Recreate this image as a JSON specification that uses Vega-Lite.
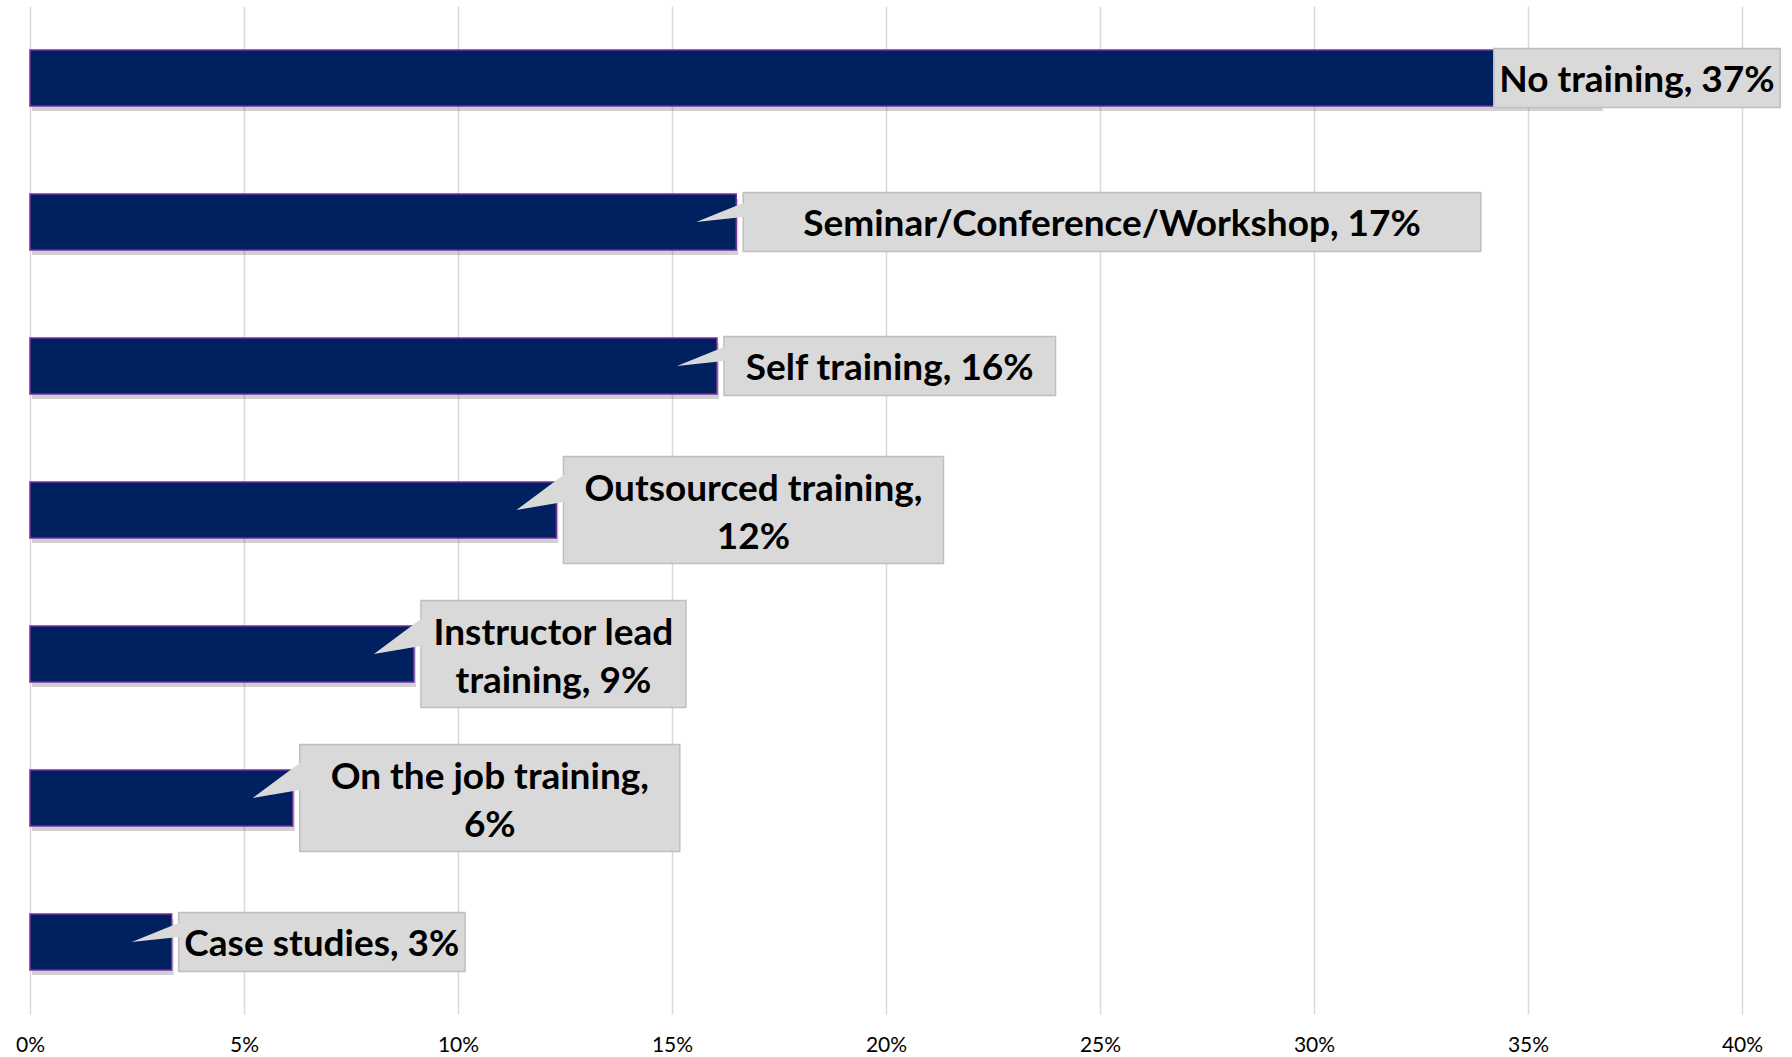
{
  "$schema": "https://vega.github.io/schema/vega-lite/v6.json",
  "width": 1712,
  "height": 1008,
  "autosize": {"type": "none"},
  "padding": {"left": 30, "top": 6, "right": 50, "bottom": 43},
  "background": "white",
  "config": {"view": {"stroke": null}, "font": "Lato"},
  "data": {
    "values": [
      {"category": "No training", "value": 0.367, "label": "No training, 37%"},
      {"category": "Seminar/Conference/Workshop", "value": 0.165, "label": "Seminar/Conference/Workshop, 17%"},
      {"category": "Self training", "value": 0.1605, "label": "Self training, 16%"},
      {"category": "Outsourced training", "value": 0.123, "label": ["Outsourced training,", "12%"]},
      {"category": "Instructor lead training", "value": 0.0897, "label": ["Instructor lead", "training, 9%"]},
      {"category": "On the job training", "value": 0.0614, "label": ["On the job training,", "6%"]},
      {"category": "Case studies", "value": 0.0331, "label": "Case studies, 3%"}
    ]
  },
  "encoding": {
    "y": {
      "field": "category",
      "type": "nominal",
      "sort": null,
      "axis": null,
      "scale": {"paddingInner": 0.61, "paddingOuter": 0.305}
    },
    "x": {
      "field": "value",
      "type": "quantitative",
      "scale": {"domain": [0, 0.4]},
      "axis": {
        "values": [0, 0.05, 0.1, 0.15, 0.2, 0.25, 0.3, 0.35, 0.4],
        "format": ".0%",
        "title": null,
        "domain": false,
        "ticks": false,
        "labelFlush": false,
        "labelPadding": 20,
        "labelFont": "Lato",
        "labelFontSize": 21,
        "labelColor": "#000000",
        "gridColor": "#d9d9d9",
        "gridWidth": 1.5
      }
    }
  },
  "layer": [
    {
      "mark": {"type": "bar", "fill": "#000000", "opacity": 0.18, "xOffset": 2, "x2Offset": 4, "yOffset": 5, "y2Offset": 5}
    },
    {
      "mark": {"type": "bar", "fill": "#002060", "stroke": "#7030a0", "strokeWidth": 1.5}
    },
    {
      "transform": [{"filter": "!isArray(datum.label)"}],
      "mark": {
        "type": "rect",
        "height": 59,
        "fill": "#d9d9d9",
        "stroke": "#bfbfbf",
        "strokeWidth": 1.5,
        "xOffset": {"expr": "datum.value > 0.3 ? -107 : 7"},
        "x2Offset": {"expr": "(datum.value > 0.3 ? -107 : 7) + 0.4 * pow(length(datum.label), 2) + 9 * length(datum.label) + 40"}
      },
      "encoding": {
        "x2": {"field": "value"}
      }
    },
    {
      "transform": [{"filter": "isArray(datum.label)"}],
      "mark": {
        "type": "rect",
        "height": 107,
        "fill": "#d9d9d9",
        "stroke": "#bfbfbf",
        "strokeWidth": 1.5,
        "xOffset": 7,
        "x2Offset": {"expr": "7 + 0.4 * pow(max(length(datum.label[0]), length(datum.label[1])), 2) + 9 * max(length(datum.label[0]), length(datum.label[1])) + 40"}
      },
      "encoding": {
        "x2": {"field": "value"}
      }
    },
    {
      "transform": [{"filter": "!isArray(datum.label) && datum.value < 0.3"}],
      "mark": {
        "type": "point",
        "shape": "M-0.8,0 L0.14,-0.38 L0.24,-0.38 L0.24,-0.1 L0.14,-0.1 Z",
        "size": 10000,
        "filled": true,
        "fill": "#d9d9d9",
        "opacity": 1,
        "strokeWidth": 0
      }
    },
    {
      "transform": [{"filter": "isArray(datum.label)"}],
      "mark": {
        "type": "point",
        "shape": "M-0.8,0 L0.14,-0.7 L0.24,-0.7 L0.24,-0.16 L0.14,-0.16 Z",
        "size": 10000,
        "filled": true,
        "fill": "#d9d9d9",
        "opacity": 1,
        "strokeWidth": 0
      }
    },
    {
      "mark": {
        "type": "text",
        "align": "center",
        "baseline": "middle",
        "font": "Lato",
        "fontWeight": "bold",
        "fontSize": 37,
        "lineHeight": 48,
        "color": "#000000",
        "dy": {"expr": "isArray(datum.label) ? -20 : 3"},
        "dx": {"expr": "(datum.value > 0.3 ? -107 : 7) + (0.4 * pow(isArray(datum.label) ? max(length(datum.label[0]), length(datum.label[1])) : length(datum.label), 2) + 9 * (isArray(datum.label) ? max(length(datum.label[0]), length(datum.label[1])) : length(datum.label)) + 40) / 2"}
      },
      "encoding": {
        "text": {"field": "label"}
      }
    }
  ]
}
